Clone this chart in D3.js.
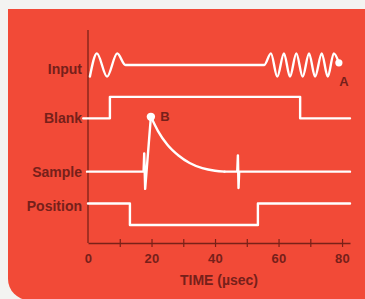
<!DOCTYPE html>
<html>
<head>
<meta charset="utf-8">
<script src="https://cdn.jsdelivr.net/npm/d3@7"></script>
<style>
  html, body { margin: 0; padding: 0; background: #f3f3f1; }
  svg { display: block; }
  text { font-family: "Liberation Sans", Arial, sans-serif; fill: #76201a; font-weight: bold; }
</style>
</head>
<body>
<div id="chart"></div>
<script>
const W = 365, H = 299;

// channel names, top to bottom
const channels = ["Input", "Blank", "Sample", "Position"];

// [time µs, level] — level 0 = channel baseline
const inputPoints = [
  [0.6, -0.54], [2.8, 0.54], [6.0, -0.54], [9.2, 0.54], [11.8, 0],
  [55.5, 0], [57.6, 0.54], [59.6, -0.54], [61.7, 0.54], [63.6, -0.54],
  [65.6, 0.54], [67.6, -0.54], [69.6, 0.54], [71.5, -0.54], [73.6, 0.54],
  [75.5, -0.54], [77.4, 0.54], [79.0, 0.1]
];
const blankSteps = [[-1.5, 0], [6.9, 1], [66.8, 0], [82.5, 0]];
const positionSteps = [[0, 1], [13.2, 0], [53.5, 1], [82.5, 1]];
const sampleRise = [[-0.3, 0], [17.5, 0], [17.7, 0.85], [18.0, -0.8], [19.8, 2.55]];
const sampleDecay = [[19.8, 2.55], [22, 1.9], [25, 1.25], [28.5, 0.75], [32, 0.4], [36, 0.16], [40, 0.04], [43, 0]];
const sampleTail = [[43, 0], [47.0, 0], [47.2, 0.76], [47.4, -0.76], [47.6, 0], [82.5, 0]];

const pointA = [79.0, 0.1];
const pointB = [19.8, 2.55];

const tickMinor = [10, 20, 30, 40, 50, 60, 70, 80];
const tickLabels = [0, 20, 40, 60, 80];

const svg = d3.select("#chart").append("svg")
    .attr("width", W)
    .attr("height", H);

// red panel with rounded bottom-left corner
svg.append("path")
    .attr("d", "M8,9 H366 V300 H29 A21,21 0 0 1 8,279 Z")
    .attr("fill", "#f24a37");

const x = d3.scaleLinear().domain([0, 82.5]).range([88, 350]);
const row = d3.scalePoint().domain(channels).range([65, 225]);
const lv = d3.scaleLinear().domain([0, 1]).range([0, -21.5]);

const axisColor = "#7a2118";

// vertical axis line
svg.append("line")
    .attr("x1", x(0)).attr("x2", x(0))
    .attr("y1", 30).attr("y2", 243)
    .attr("stroke", axisColor)
    .attr("stroke-width", 1.3);

// time axis, ticks crossing the line
const gx = svg.append("g")
    .attr("transform", "translate(0,243)")
    .call(d3.axisBottom(x).tickValues(tickMinor).tickSize(4).tickFormat("").tickSizeOuter(0));
gx.select(".domain").attr("stroke", axisColor).attr("stroke-width", 1.5);
gx.selectAll(".tick line").attr("y1", -4).attr("stroke", axisColor).attr("stroke-width", 1.2);

const gl = svg.append("g")
    .attr("transform", "translate(0,243)")
    .call(d3.axisBottom(x).tickValues(tickLabels).tickSize(0).tickPadding(11));
gl.select(".domain").remove();
gl.selectAll("text")
    .attr("fill", "#76201a")
    .style("font-size", "13px")
    .style("font-weight", "bold")
    .style("letter-spacing", "0.3px");

svg.append("text")
    .attr("x", (x.range()[0] + x.range()[1]) / 2)
    .attr("y", 280)
    .attr("dy", "0.35em")
    .attr("text-anchor", "middle")
    .style("font-size", "14px")
    .text("TIME (µsec)");

// channel labels
const labelDy = { Input: 4, Blank: 0, Sample: 0, Position: -19 };
svg.append("g")
    .selectAll("text")
    .data(channels)
    .join("text")
    .attr("x", 82)
    .attr("y", d => row(d) + labelDy[d])
    .attr("dy", "0.35em")
    .attr("text-anchor", "end")
    .style("font-size", "14px")
    .text(d => d);

// signals
const lineFor = (ch, curve) => d3.line()
    .x(d => x(d[0]))
    .y(d => row(ch) + lv(d[1]))
    .curve(curve);

const traces = [
  { ch: "Input", pts: inputPoints, curve: d3.curveMonotoneX },
  { ch: "Blank", pts: blankSteps, curve: d3.curveStepAfter },
  { ch: "Sample", pts: sampleRise, curve: d3.curveLinear },
  { ch: "Sample", pts: sampleDecay, curve: d3.curveMonotoneX },
  { ch: "Sample", pts: sampleTail, curve: d3.curveLinear },
  { ch: "Position", pts: positionSteps, curve: d3.curveStepAfter }
];

svg.append("g")
    .selectAll("path")
    .data(traces)
    .join("path")
    .attr("d", d => lineFor(d.ch, d.curve)(d.pts))
    .attr("fill", "none")
    .attr("stroke", "#fff")
    .attr("stroke-width", 2.4)
    .attr("stroke-linejoin", "round")
    .attr("stroke-linecap", "round");

// marked points
const marks = [
  { ch: "Input", p: pointA, name: "A", dx: 5, dy: 19, r: 3.6 },
  { ch: "Sample", p: pointB, name: "B", dx: 14, dy: 0, r: 4.2 }
];
svg.append("g")
    .selectAll("circle")
    .data(marks)
    .join("circle")
    .attr("cx", d => x(d.p[0]))
    .attr("cy", d => row(d.ch) + lv(d.p[1]))
    .attr("r", d => d.r)
    .attr("fill", "#fff");

svg.append("g")
    .selectAll("text")
    .data(marks)
    .join("text")
    .attr("x", d => x(d.p[0]) + d.dx)
    .attr("y", d => row(d.ch) + lv(d.p[1]) + d.dy)
    .attr("dy", "0.35em")
    .attr("text-anchor", "middle")
    .style("font-size", "13px")
    .text(d => d.name);
</script>
</body>
</html>
